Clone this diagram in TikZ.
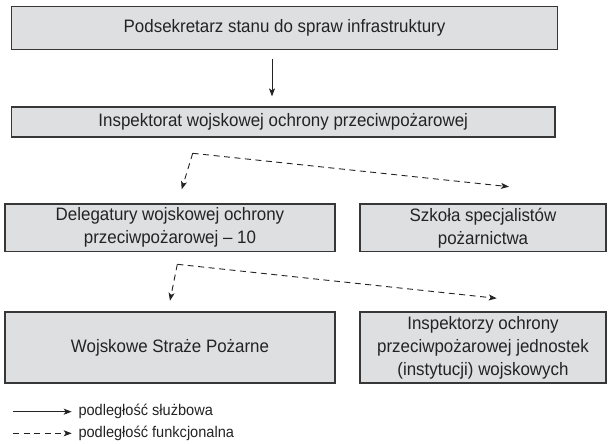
\documentclass[tikz,border=0pt]{standalone}
\usepackage{fontspec}
\setmainfont{Liberation Sans}[FakeStretch=0.94]
\usetikzlibrary{arrows.meta,calc}
\definecolor{boxfill}{RGB}{222,223,225}
\definecolor{boxline}{RGB}{55,55,55}
\definecolor{inkc}{RGB}{35,35,35}
\begin{document}
\begin{tikzpicture}[x=1pt,y=-1pt,
  orgbox/.style={draw=boxline,fill=boxfill,line width=1.2pt,inner sep=0pt,align=center,
    text=inkc,font=\fontsize{18}{23}\selectfont},
  solidarrow/.style={draw=inkc,line width=0.9pt,-{Stealth[length=8pt,width=6pt,inset=2pt]}},
  dasharrow/.style={draw=inkc,line width=0.9pt,dash pattern=on 6pt off 4.5pt,-{Stealth[length=8pt,width=6pt,inset=2pt]}},
  legendtext/.style={anchor=west,inner sep=0pt,text=inkc,font=\fontsize{15.5}{18}\selectfont}]
\useasboundingbox (0,0) rectangle (608,444);
\node[orgbox,minimum width=546pt,minimum height=42.6pt] (b1) at (284.5,28) {Podsekretarz stanu do spraw infrastruktury};
\node[orgbox,minimum width=543.5pt,minimum height=30pt] (b2) at (283.25,122) {Inspektorat wojskowej ochrony przeciwpożarowej};
\node[orgbox,minimum width=330pt,minimum height=47.7pt] (b3) at (170,227.8) {Delegatury wojskowej ochrony\\przeciwpożarowej -- 10};
\node[orgbox,minimum width=246pt,minimum height=47.7pt] (b4) at (483,227.8) {Szkoła specjalistów\\pożarnictwa};
\node[orgbox,minimum width=330pt,minimum height=71pt] (b5) at (170,347.5) {Wojskowe Straże Pożarne};
\node[orgbox,minimum width=246pt,minimum height=71pt] (b6) at (483,347.5) {Inspektorzy ochrony\\przeciwpożarowej jednostek\\(instytucji) wojskowych};
\coordinate (ax) at (272,0);
\draw[solidarrow,shorten <=8.7pt,shorten >=10pt] (b1.south -| ax) -- (b2.north -| ax);
\coordinate (c1) at (192.7,153.3);
\coordinate (e1) at (181.7,189.3);
\coordinate (f1) at (509,186.7);
\draw[dasharrow] (c1) -- (e1);
\draw[dasharrow] (c1) -- (f1);
\coordinate (c2) at (177.3,264.3);
\coordinate (e2) at (170,300.7);
\coordinate (f2) at (496.7,298.3);
\draw[dasharrow] (c2) -- (e2);
\draw[dasharrow] (c2) -- (f2);
\coordinate (l1a) at (13.3,411.7);
\coordinate (l1b) at (71.7,411.7);
\coordinate (l2a) at (13.3,433.3);
\coordinate (l2b) at (71.7,433.3);
\draw[solidarrow] (l1a) -- (l1b);
\draw[dasharrow] (l2a) -- (l2b);
\node[legendtext] (t1) at (78.3,411.7) {podległość służbowa};
\node[legendtext] (t2) at (78.3,433.3) {podległość funkcjonalna};
\end{tikzpicture}
\end{document}
